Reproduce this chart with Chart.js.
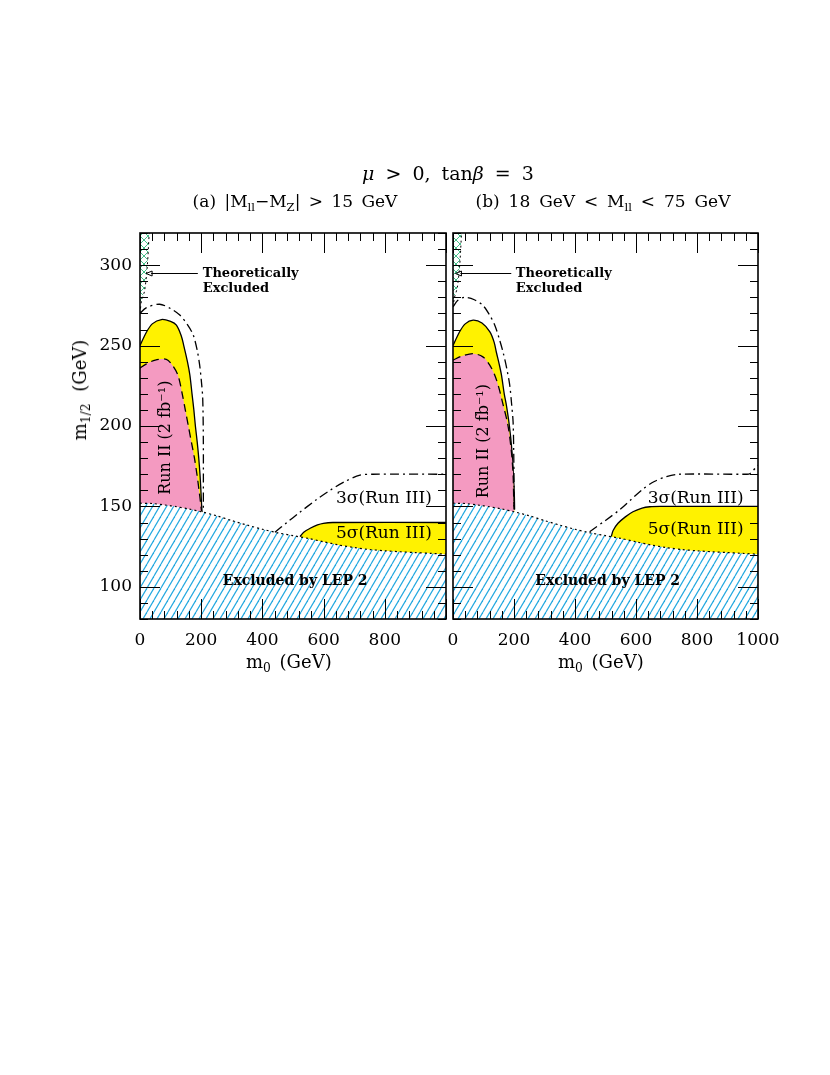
<!DOCTYPE html>
<html><head><meta charset="utf-8">
<script src="https://cdn.jsdelivr.net/npm/chart.js@4/dist/chart.umd.min.js"></script>
<style>
body{margin:0;background:#fff;}
#wrap{position:relative;width:830px;height:1075px;overflow:hidden;background:#fff;}
canvas{position:absolute;left:0;top:0;}
.t{position:absolute;font-family:'DejaVu Serif',serif;color:#000;white-space:nowrap;line-height:1;}
.t sub{font-size:68%;vertical-align:baseline;position:relative;top:0.32em;}
</style></head><body>
<div id="wrap">
<canvas id="ca" width="830" height="1075"></canvas>
<canvas id="cb" width="830" height="1075"></canvas>
<div class="t" style="left:248px;width:400px;top:164px;text-align:center;font-size:19px;word-spacing:5px"><i>μ</i> &gt; 0, tan<i>β</i> = 3</div>
<div class="t" style="left:95px;width:400px;top:193px;text-align:center;font-size:17px;word-spacing:3px">(a) |M<sub>ll</sub>−M<sub>Z</sub>| &gt; 15 GeV</div>
<div class="t" style="left:403px;width:400px;top:193px;text-align:center;font-size:17px;word-spacing:3.5px">(b) 18 GeV &lt; M<sub>ll</sub> &lt; 75 GeV</div>
<div class="t" style="left:246px;top:653px;font-size:18px;word-spacing:3px">m<sub>0</sub> (GeV)</div>
<div class="t" style="left:558px;top:653px;font-size:18px;word-spacing:3px">m<sub>0</sub> (GeV)</div>
<div class="t" style="left:80px;top:390px;font-size:18px;word-spacing:6px;transform:translate(-50%,-50%) rotate(-90deg);">m<sub>1/2</sub> (GeV)</div>
</div>
<script>
// ---------- axes ----------
const xMin = 0, xMax = 1000, yMin = 80, yMax = 320;
const xTicksA = [0, 200, 400, 600, 800];
const xTicksB = [0, 200, 400, 600, 800, 1000];
const yTicks = [100, 150, 200, 250, 300];

// ---------- LEP 2 exclusion boundary (both panels) ----------
const lepX = [0, 40, 80, 120, 160, 200, 250, 300, 350, 400, 450, 500, 550, 600, 650, 700, 750, 800, 850, 900, 950, 1000];
const lepY = [152, 151.8, 150.9, 149.8, 148.4, 146.7, 144.2, 141.2, 138.4, 135.8, 133.6, 131.8, 130.1, 128, 126, 124.4, 123.2, 122.4, 121.8, 121.3, 120.8, 120.3];

// ---------- panel (a) ----------
const aTheoX = [0, 5, 15, 24, 30];
const aTheoY = [270, 278, 284, 300, 320];
const aRun2SolidX = [0, 20, 40, 70, 100, 119, 135, 143, 155, 163, 170, 176, 181, 187, 192, 196, 199, 201, 203];
const aRun2SolidY = [250, 258, 263.5, 266.2, 265, 262.7, 256, 250, 240, 231.6, 220, 210, 200, 190, 180, 170, 160, 152, 146];
const aRun2DashX = [0, 20, 50, 86, 105, 124, 138, 148, 158, 168, 178, 186, 193, 198, 201];
const aRun2DashY = [236, 238.5, 241, 241.5, 238, 231.6, 220, 210, 200, 190, 180, 170, 160, 152, 147];
const aRun2DotDashX = [0, 20, 64, 100, 130, 155, 174, 187, 195, 201, 205, 207, 207];
const aRun2DotDashY = [270, 273.5, 275.7, 273, 269, 263, 256.5, 247, 237.8, 227, 217, 190, 147];
const aRun3Sig3X = [441, 480, 520, 575, 621, 670, 719, 760, 1000];
const aRun3Sig3Y = [134, 140, 146, 154, 160, 165.5, 169.5, 170, 170];
const aRun3Sig5X = [523, 535, 556, 580, 599, 630, 1000];
const aRun3Sig5Y = [131.2, 134, 136.4, 138.5, 139.5, 140, 140];

// ---------- panel (b) ----------
const bTheoX = [0, 5, 14, 22, 28];
const bTheoY = [274, 280, 286, 300, 320];
const bRun2SolidX = [0, 20, 40, 66, 95, 121, 135, 142, 152, 159, 168, 175, 185, 193, 198, 201, 202];
const bRun2SolidY = [250, 258, 263.5, 265.8, 264, 258.5, 252, 246, 238, 231.6, 220, 213, 200, 185, 170, 158, 148];
const bRun2DashX = [0, 30, 66, 98, 120, 137, 150, 162, 180, 191, 197, 199, 200];
const bRun2DashY = [241, 243.5, 245, 243, 238, 231.6, 224, 215, 200.6, 185, 170, 155, 148];
const bRun2DotDashX = [0, 15, 38, 70, 98, 120, 137, 152, 164, 176, 186, 192, 197, 199, 200, 200];
const bRun2DotDashY = [274, 278, 280, 278.5, 275, 269, 262.7, 254, 246, 236, 225.4, 214, 202.6, 185, 165, 150];
const bRun3Sig3X = [448, 500, 547, 585, 623, 660, 700, 740, 960, 973, 1000];
const bRun3Sig3Y = [134.3, 141.3, 148, 154.5, 160.8, 165.5, 168.5, 170, 170, 170.3, 175.7];
const bRun3Sig5X = [519, 525, 541, 565, 590, 620, 645, 680, 1000];
const bRun3Sig5Y = [131.2, 135, 139.5, 143.5, 146.7, 149, 149.8, 150, 150];

// ---------- colours ----------
const YELLOW = '#fff200', PINK = '#f49ac1', CYAN = '#22a8e0', GREEN = '#45c08a';
const FONT = "'DejaVu Serif', serif";

function hatchPattern() {
  const s = 7, h = 12;
  const c = document.createElement('canvas'); c.width = s; c.height = h;
  const g = c.getContext('2d');
  g.fillStyle = '#fff'; g.fillRect(0, 0, s, h);
  g.strokeStyle = CYAN; g.lineWidth = 1.2;
  [[0, h, s, 0], [-s, h, 0, 0], [s, h, 2 * s, 0]].forEach(l => { g.beginPath(); g.moveTo(l[0], l[1]); g.lineTo(l[2], l[3]); g.stroke(); });
  return g.createPattern(c, 'repeat');
}
function crossPattern() {
  const s = 8;
  const c = document.createElement('canvas'); c.width = s; c.height = s;
  const g = c.getContext('2d');
  g.fillStyle = '#fff'; g.fillRect(0, 0, s, s);
  g.strokeStyle = GREEN; g.lineWidth = 1;
  g.beginPath(); g.moveTo(0, 0); g.lineTo(s, s); g.moveTo(s, 0); g.lineTo(0, s); g.stroke();
  return g.createPattern(c, 'repeat');
}
const pts = (xs, ys) => xs.map((x, i) => ({x: x, y: ys[i]}));

function annotate(ctx, chart, notes) {
  const {x: sx, y: sy} = chart.scales;
  notes.forEach(n => {
    ctx.save();
    ctx.fillStyle = '#000';
    ctx.font = (n.bold ? 'bold ' : '') + n.size + 'px ' + FONT;
    ctx.textAlign = n.align || 'left';
    ctx.textBaseline = 'middle';
    const px = sx.getPixelForValue(n.x), py = sy.getPixelForValue(n.y);
    ctx.translate(px, py);
    if (n.rot) ctx.rotate(n.rot);
    ctx.fillText(n.text, 0, 0);
    ctx.restore();
  });
}

const decoPlugin = {
  id: 'deco',
  afterDatasetsDraw(chart, args, opts) {
    const ctx = chart.ctx, a = chart.chartArea, sx = chart.scales.x, sy = chart.scales.y;
    ctx.save();
    ctx.strokeStyle = '#000'; ctx.lineWidth = 1;
    for (let v = xMin; v <= xMax; v += 40) {
      const p = Math.round(sx.getPixelForValue(v)) + 0.5;
      const len = (v % 200 === 0) ? 20 : 8;
      ctx.beginPath();
      ctx.moveTo(p, a.bottom); ctx.lineTo(p, a.bottom - len);
      ctx.moveTo(p, a.top); ctx.lineTo(p, a.top + len);
      ctx.stroke();
    }
    for (let v = yMin; v <= yMax; v += 10) {
      const p = Math.round(sy.getPixelForValue(v)) + 0.5;
      const len = (v % 50 === 0) ? 20 : 8;
      ctx.beginPath();
      ctx.moveTo(a.left, p); ctx.lineTo(a.left + len, p);
      ctx.moveTo(a.right, p); ctx.lineTo(a.right - len, p);
      ctx.stroke();
    }
    ctx.lineWidth = 1.6;
    ctx.strokeRect(a.left, a.top, a.right - a.left, a.bottom - a.top);
    const ar = opts.arrow;
    const x0 = sx.getPixelForValue(ar.from), x1 = sx.getPixelForValue(ar.to), y0 = Math.round(sy.getPixelForValue(ar.y)) + 0.5;
    ctx.lineWidth = 1.2;
    ctx.beginPath(); ctx.moveTo(x0, y0); ctx.lineTo(x1 + 5, y0); ctx.stroke();
    ctx.lineWidth = 1;
    ctx.beginPath(); ctx.moveTo(x1, y0); ctx.lineTo(x1 + 6, y0 - 2.5); ctx.lineTo(x1 + 6, y0 + 2.5); ctx.closePath(); ctx.stroke();
    ctx.restore();
    annotate(ctx, chart, opts.notes);
  }
};

function makeChart(id, side) {
  const A = side === 'a';
  const hp = hatchPattern(), cp = crossPattern();
  const lineBase = {pointRadius: 0, tension: 0.3, borderColor: '#000', borderWidth: 1.3};
  const datasets = [
    Object.assign({}, lineBase, {label: 'Run III 3σ', data: pts(A ? aRun3Sig3X : bRun3Sig3X, A ? aRun3Sig3Y : bRun3Sig3Y), fill: false, borderDash: [9, 4, 2, 4], order: 0}),
    Object.assign({}, lineBase, {label: 'Run II dash-dot', data: pts(A ? aRun2DotDashX : bRun2DotDashX, A ? aRun2DotDashY : bRun2DotDashY), fill: false, borderDash: [9, 4, 2, 4], order: 0}),
    Object.assign({}, lineBase, {label: 'Theoretically excluded', data: pts(A ? aTheoX : bTheoX, A ? aTheoY : bTheoY), fill: 'end', backgroundColor: cp, borderDash: [2, 3], borderWidth: 1, order: 1}),
    Object.assign({}, lineBase, {label: 'LEP 2', data: pts(lepX, lepY), fill: 'start', backgroundColor: hp, borderDash: [2, 3], borderWidth: 1.2, order: 2}),
    Object.assign({}, lineBase, {label: 'Run II 2 fb-1', data: pts(A ? aRun2DashX : bRun2DashX, A ? aRun2DashY : bRun2DashY), fill: 'start', backgroundColor: PINK, borderDash: [8, 5], order: 3}),
    Object.assign({}, lineBase, {label: 'Run II solid', data: pts(A ? aRun2SolidX : bRun2SolidX, A ? aRun2SolidY : bRun2SolidY), fill: 'start', backgroundColor: YELLOW, order: 4}),
    Object.assign({}, lineBase, {label: 'Run III 5σ', data: pts(A ? aRun3Sig5X : bRun3Sig5X, A ? aRun3Sig5Y : bRun3Sig5Y), fill: 'start', backgroundColor: YELLOW, order: 4})
  ];
  const notes = A ? [
    {text: 'Theoretically', x: 205, y: 294.8, size: 13, bold: true},
    {text: 'Excluded', x: 205, y: 285.5, size: 13, bold: true},
    {text: 'Run II (2 fb⁻¹)', x: 86, y: 192.7, size: 16, align: 'center', rot: -Math.PI / 2},
    {text: '3σ(Run III)', x: 954, y: 154.6, size: 17, align: 'right'},
    {text: '5σ(Run III)', x: 954, y: 133.3, size: 17, align: 'right'},
    {text: 'Excluded by LEP 2', x: 507, y: 103.7, size: 14, bold: true, align: 'center'}
  ] : [
    {text: 'Theoretically', x: 206, y: 294.8, size: 13, bold: true},
    {text: 'Excluded', x: 206, y: 285.5, size: 13, bold: true},
    {text: 'Run II (2 fb⁻¹)', x: 100, y: 190.6, size: 16, align: 'center', rot: -Math.PI / 2},
    {text: '3σ(Run III)', x: 953, y: 154.6, size: 17, align: 'right'},
    {text: '5σ(Run III)', x: 953, y: 135.3, size: 17, align: 'right'},
    {text: 'Excluded by LEP 2', x: 507, y: 103.7, size: 14, bold: true, align: 'center'}
  ];
  const xt = A ? xTicksA : xTicksB;
  return new Chart(document.getElementById(id), {
    type: 'line',
    data: {datasets: datasets},
    plugins: [decoPlugin],
    options: {
      responsive: false, animation: false, devicePixelRatio: 1,
      layout: {padding: {left: A ? 0 : 453, right: A ? 384 : 72, top: 233, bottom: 416}},
      plugins: {
        legend: {display: false}, tooltip: {enabled: false},
        filler: {propagate: false},
        deco: {notes: notes, arrow: A ? {from: 189, to: 20, y: 295.4} : {from: 191, to: 8, y: 295.4}}
      },
      scales: {
        x: {
          type: 'linear', min: xMin, max: xMax,
          grid: {display: false, drawTicks: false}, border: {display: false},
          ticks: {padding: 11, color: '#000', autoSkip: false, maxRotation: 0, font: {family: FONT, size: 17}, callback: v => String(v)},
          afterBuildTicks: s => { s.ticks = xt.map(v => ({value: v})); },
          afterFit: s => { s.height = 40; }
        },
        y: {
          type: 'linear', min: yMin, max: yMax, display: A,
          grid: {display: false, drawTicks: false}, border: {display: false},
          ticks: {padding: 8, color: '#000', font: {family: FONT, size: 17}, callback: v => String(v)},
          afterBuildTicks: s => { s.ticks = yTicks.map(v => ({value: v})); },
          afterFit: s => { s.width = A ? 140 : 0; }
        }
      }
    }
  });
}
makeChart('ca', 'a');
makeChart('cb', 'b');
</script>
</body></html>
